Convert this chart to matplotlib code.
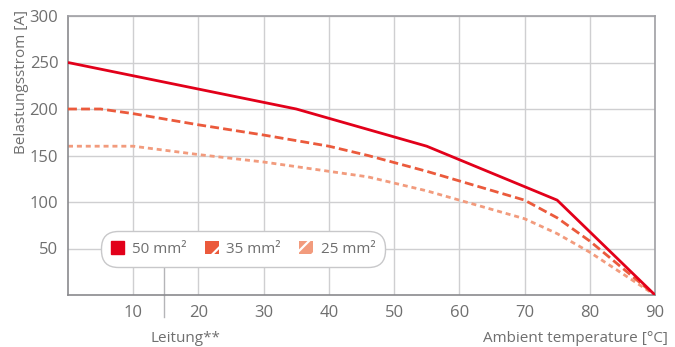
import matplotlib
matplotlib.use('Agg')
import matplotlib.pyplot as plt
from matplotlib.patches import Patch

plt.rcParams['font.family'] = ['Open Sans', 'DejaVu Sans']
plt.rcParams['hatch.linewidth'] = 1.6

# Data
temp_50 = [0, 35, 55, 75, 90]
amp_50 = [250, 200, 160, 102, 0]

temp_35 = [0, 5, 10, 20, 30, 40, 46, 55, 70, 75, 80, 90]
amp_35 = [200, 200, 195, 183, 172, 160, 150, 133, 102, 83, 58, 0]

temp_25 = [0, 10, 20, 30, 40, 46, 55, 70, 75, 80, 90]
amp_25 = [160, 160, 151, 143, 133, 127, 112, 82, 66, 46, 0]

labels = ['50 mm²', '35 mm²', '25 mm²']
colors = ['#e2001a', '#eb5a3c', '#f29b7d']
xticks = [10, 20, 30, 40, 50, 60, 70, 80, 90]
yticks = [50, 100, 150, 200, 250, 300]

text_col = '#6f6f6f'
grid_col = '#cfcfd1'

fig = plt.figure(figsize=(6.75, 3.47), dpi=100)
ax = fig.add_axes([68 / 675, 1 - 295 / 347, 587 / 675, 279 / 347])

ax.plot(temp_50, amp_50, color=colors[0], lw=2.0, solid_capstyle='butt', zorder=4)
ax.plot(temp_35, amp_35, color=colors[1], lw=2.0, dashes=(3.2, 1.5), zorder=3)
ax.plot(temp_25, amp_25, color=colors[2], lw=2.0, dashes=(1.8, 1.4), zorder=2)

ax.set_xlim(0, 90)
ax.set_ylim(0, 300)
ax.set_xticks(xticks)
ax.set_yticks(yticks)
ax.grid(True, color=grid_col, lw=1.0)
ax.set_axisbelow(True)
ax.tick_params(length=0, labelsize=12, labelcolor=text_col, pad=7)
for side in ['top', 'right']:
    ax.spines[side].set_color('#a0a0a4')
    ax.spines[side].set_linewidth(1.2)
for side in ['left', 'bottom']:
    ax.spines[side].set_color('#8a8a8e')
    ax.spines[side].set_linewidth(1.2)

ax.set_ylabel('Belastungsstrom [A]', fontsize=11, color=text_col, loc='top')
ax.yaxis.set_label_coords(-0.066, 1.02)
ax.set_xlabel('Ambient temperature [°C]', fontsize=11, color=text_col, loc='right')
ax.xaxis.set_label_coords(1.022, -0.13)

# "Leitung**" marker below the axis
ax.plot([14.7, 14.7], [0, 0.11], transform=ax.get_xaxis_transform(),
        color='#b5b5b8', lw=1.0, clip_on=False, zorder=1)
ax.plot([14.7, 14.7], [-0.08, 0.0], transform=ax.get_xaxis_transform(),
        color='#b5b5b8', lw=1.0, clip_on=False, zorder=1)
ax.text(18.0, -0.13, 'Leitung**', transform=ax.get_xaxis_transform(),
        ha='center', va='top', fontsize=11, color=text_col)

handles = [
    Patch(facecolor=colors[0], edgecolor=colors[0]),
    Patch(facecolor=colors[1], edgecolor='white', hatch='/', lw=0),
    Patch(facecolor=colors[2], edgecolor='white', hatch='//', lw=0),
]
leg = ax.legend(handles, labels, loc='center', bbox_to_anchor=(0.298, 0.165),
                ncol=3, frameon=True, fontsize=11, labelcolor=text_col,
                handlelength=0.9, handleheight=0.9, handletextpad=0.5,
                columnspacing=1.2, borderpad=0.45, borderaxespad=0)
frame = leg.get_frame()
frame.set_boxstyle('round,pad=0.2,rounding_size=1.1')
frame.set_edgecolor('#c8c8ca')
frame.set_facecolor('white')
frame.set_alpha(1)
frame.set_linewidth(1.0)
leg.set_zorder(5)

fig.savefig('out.png', dpi=100)
